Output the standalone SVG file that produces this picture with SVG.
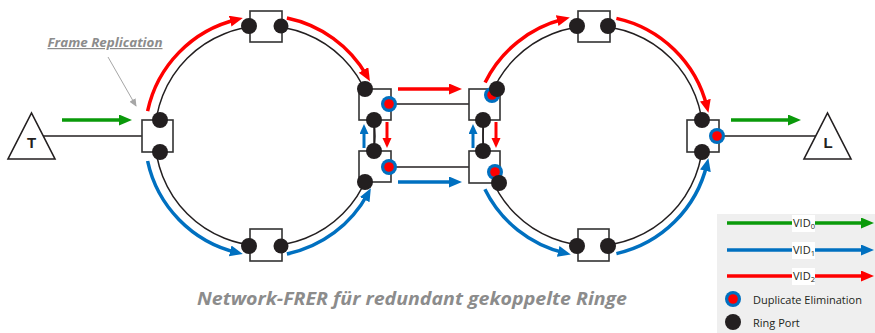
<svg xmlns="http://www.w3.org/2000/svg" width="875" height="333" viewBox="0 0 875 333">
<defs>
<style>
.ring{fill:none;stroke:#231f20;stroke-width:1.5}
.wire{fill:none;stroke:#231f20;stroke-width:1.5}
.box{fill:#fff;stroke:#333;stroke-width:1.6}
.tri{fill:#fff;stroke:#231f20;stroke-width:1.6}
.port{fill:#231f20}
.deo{fill:#0070c0}
.dei{fill:#ff0000}
.red{fill:none;stroke:#ff0000;stroke-width:3.5;marker-end:url(#mr)}
.blue{fill:none;stroke:#0070c0;stroke-width:3.5;marker-end:url(#mb)}
.green{fill:none;stroke:#0a9a0a;stroke-width:3.5;marker-end:url(#mg)}
.reds{fill:none;stroke:#ff0000;stroke-width:3;marker-end:url(#mrs)}
.blues{fill:none;stroke:#0070c0;stroke-width:3;marker-end:url(#mbs)}
.lbl{font-family:"Liberation Sans",Arial,sans-serif;font-weight:bold;fill:#231f20}
.leg{font-family:"Open Sans","Liberation Sans",sans-serif;font-size:11px;fill:#231f20}
.cap{font-family:"Open Sans","Liberation Sans",sans-serif;font-weight:bold;font-style:italic;fill:#8c8c8c}
</style>
<marker id="mr" markerUnits="userSpaceOnUse" markerWidth="14" markerHeight="12" refX="7" refY="5.5" orient="auto"><path d="M0,0 L13,5.5 L0,11 z" fill="#ff0000"/></marker>
<marker id="mb" markerUnits="userSpaceOnUse" markerWidth="14" markerHeight="12" refX="7" refY="5.5" orient="auto"><path d="M0,0 L13,5.5 L0,11 z" fill="#0070c0"/></marker>
<marker id="mg" markerUnits="userSpaceOnUse" markerWidth="14" markerHeight="12" refX="7" refY="5.5" orient="auto"><path d="M0,0 L13,5.5 L0,11 z" fill="#0a9a0a"/></marker>
<marker id="mrs" markerUnits="userSpaceOnUse" markerWidth="11" markerHeight="10" refX="5" refY="4.5" orient="auto"><path d="M0,0 L10,4.5 L0,9 z" fill="#ff0000"/></marker>
<marker id="mbs" markerUnits="userSpaceOnUse" markerWidth="11" markerHeight="10" refX="5" refY="4.5" orient="auto"><path d="M0,0 L10,4.5 L0,9 z" fill="#0070c0"/></marker>
<marker id="mgy" markerUnits="userSpaceOnUse" markerWidth="9" markerHeight="8" refX="7" refY="3.5" orient="auto"><path d="M0,0 L8,3.5 L0,7 z" fill="#a6a6a6"/></marker>
</defs>
<rect width="875" height="333" fill="#fff"/>

<!-- rings and wires -->
<g id="connectors">
<circle class="ring" cx="265" cy="136" r="110"/>
<circle class="ring" cx="593" cy="136" r="110"/>
<line class="wire" x1="43" y1="136" x2="142" y2="136"/>
<line class="wire" x1="389" y1="104" x2="469" y2="104"/>
<line class="wire" x1="389" y1="167" x2="469" y2="167"/>
<line class="wire" x1="717" y1="136" x2="816" y2="136"/>
<line class="wire" x1="374" y1="120" x2="374" y2="151"/>
<line class="wire" x1="483" y1="120" x2="483" y2="151"/>
</g>

<!-- nodes -->
<g id="T"><polygon class="tri" points="8,159 55,159 31.5,113"/><text class="lbl" x="31.5" y="148" font-size="15" text-anchor="middle">T</text></g>
<g id="L"><polygon class="tri" points="804,159 851,159 827.5,113"/><text class="lbl" x="828" y="148" font-size="15" text-anchor="middle">L</text></g>

<g id="S1"><rect class="box" x="142" y="120" width="31" height="32"/><circle class="port" cx="160" cy="120" r="8"/><circle class="port" cx="160" cy="152" r="8"/></g>
<g id="S2"><rect class="box" x="250" y="11" width="32" height="31"/><circle class="port" cx="249" cy="26" r="8"/><circle class="port" cx="281" cy="26" r="7.5"/></g>
<g id="S3"><rect class="box" x="359" y="89" width="32" height="31"/><circle class="port" cx="365" cy="89" r="8"/><circle class="deo" cx="389" cy="104" r="8"/><circle class="dei" cx="389" cy="104" r="4.8"/><circle class="port" cx="374" cy="120" r="8"/></g>
<g id="S4"><rect class="box" x="359" y="151" width="32" height="31"/><circle class="port" cx="374" cy="151" r="8"/><circle class="deo" cx="389" cy="167" r="8"/><circle class="dei" cx="389" cy="167" r="4.8"/><circle class="port" cx="365" cy="182" r="8"/></g>
<g id="S5"><rect class="box" x="250" y="229" width="32" height="32"/><circle class="port" cx="249" cy="246" r="8"/><circle class="port" cx="281" cy="246" r="7.5"/></g>
<g id="S6"><rect class="box" x="469" y="89" width="31" height="31"/><circle class="deo" cx="492" cy="95" r="8"/><circle class="dei" cx="492" cy="95" r="4.8"/><circle class="port" cx="497" cy="89" r="8"/><circle class="port" cx="483" cy="120" r="8"/></g>
<g id="S7"><rect class="box" x="469" y="151" width="31" height="32"/><circle class="port" cx="483" cy="151" r="8"/><circle class="deo" cx="495" cy="172" r="8"/><circle class="dei" cx="495" cy="172" r="4.8"/><circle class="port" cx="499" cy="183" r="8"/></g>
<g id="S8"><rect class="box" x="578" y="11" width="32" height="31"/><circle class="port" cx="577" cy="26" r="8"/><circle class="port" cx="608" cy="26" r="8"/></g>
<g id="S9"><rect class="box" x="687" y="120" width="32" height="32"/><circle class="port" cx="702" cy="120" r="8"/><circle class="deo" cx="717" cy="136" r="8"/><circle class="dei" cx="717" cy="136" r="4.8"/><circle class="port" cx="702" cy="152" r="8"/></g>
<g id="S10"><rect class="box" x="578" y="229" width="31" height="32"/><circle class="port" cx="577" cy="246" r="8"/><circle class="port" cx="608" cy="246" r="8"/></g>

<!-- flow arrows -->
<g id="flows">
<line class="green" x1="62" y1="120" x2="126" y2="120"/>
<line class="green" x1="731" y1="120" x2="795" y2="120"/>
<path class="red" d="M147.6,111.1 A120,120 0 0 1 237,19.5"/>
<path class="red" d="M286.9,18 A120,120 0 0 1 367,76"/>
<path class="blue" d="M147.6,161 A120,120 0 0 0 237,252.5"/>
<path class="blue" d="M286.9,254 A120,120 0 0 0 368,193.5"/>
<path class="red" d="M485.1,82.5 A120,120 0 0 1 564,19"/>
<path class="red" d="M616.4,18.4 A120,120 0 0 1 707,107"/>
<path class="blue" d="M484.9,189.2 A120,120 0 0 0 565,253"/>
<path class="blue" d="M616.4,253.6 A120,120 0 0 0 707,164"/>
<line class="red" x1="398" y1="89" x2="456" y2="89"/>
<line class="blue" x1="398" y1="182" x2="456" y2="182"/>
<line class="blues" x1="364" y1="148" x2="364" y2="129"/>
<line class="reds" x1="387" y1="122" x2="387" y2="143"/>
<line class="blues" x1="473" y1="148" x2="473" y2="129"/>
<line class="reds" x1="496" y1="122" x2="496" y2="143"/>
<line x1="108" y1="57" x2="136" y2="106" stroke="#a6a6a6" stroke-width="1" marker-end="url(#mgy)"/>
</g>

<text class="cap" x="105" y="47" font-size="12" text-anchor="middle" fill="#7f7f7f" text-decoration="underline" textLength="115" lengthAdjust="spacingAndGlyphs">Frame Replication</text>
<text class="cap" x="412" y="305" font-size="18" text-anchor="middle" textLength="430" lengthAdjust="spacingAndGlyphs">Network-FRER für redundant gekoppelte Ringe</text>

<!-- legend -->
<g id="legend">
<rect x="717" y="214" width="158" height="119" fill="#efefef"/>
<line class="green" x1="727" y1="223" x2="868" y2="223"/>
<line class="blue" x1="727" y1="250" x2="868" y2="250"/>
<line class="red" x1="727" y1="276" x2="868" y2="276"/>
<rect x="792" y="215" width="23" height="17" fill="#fff"/>
<rect x="792" y="242" width="23" height="17" fill="#fff"/>
<rect x="792" y="268" width="23" height="17" fill="#fff"/>
<text class="leg" x="793" y="227">VID<tspan font-size="7.5" dy="2">0</tspan></text>
<text class="leg" x="793" y="254">VID<tspan font-size="7.5" dy="2">1</tspan></text>
<text class="leg" x="793" y="280">VID<tspan font-size="7.5" dy="2">2</tspan></text>
<circle class="deo" cx="733" cy="299" r="8"/><circle class="dei" cx="733" cy="299" r="4.8"/>
<circle class="port" cx="733" cy="322" r="8"/>
<text class="leg" x="753" y="304">Duplicate Elimination</text>
<text class="leg" x="753" y="327">Ring Port</text>
</g>
</svg>
